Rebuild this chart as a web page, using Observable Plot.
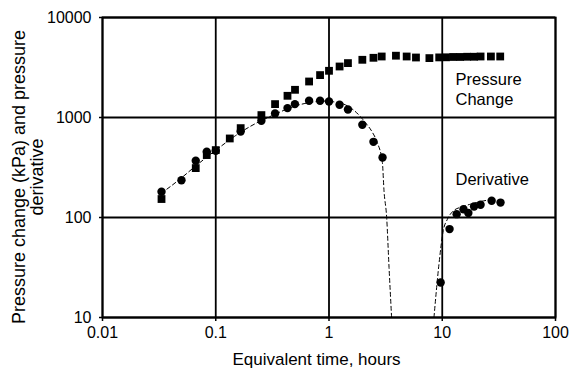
<!DOCTYPE html>
<html><head><meta charset="utf-8">
<script src="https://cdn.jsdelivr.net/npm/d3@7"></script>
<script src="https://cdn.jsdelivr.net/npm/@observablehq/plot@0.6"></script>
<style>
html,body{margin:0;padding:0;background:#fff;}
</style></head>
<body><div id="chart"></div>
<script>
// Axis ticks
const xTicks = [0.01, 0.1, 1, 10, 100];
const xTickLabels = ["0.01", "0.1", "1", "10", "100"];
const yTicks = [10, 100, 1000, 10000];
const yTickLabels = ["10", "100", "1000", "10000"];

// Pressure change (squares)
const pressureTime = [0.0332, 0.0666, 0.0833, 0.1, 0.133, 0.166, 0.253, 0.334, 0.43, 0.501, 0.667, 0.834, 1.0, 1.24, 1.47, 1.97, 2.47, 2.92, 3.9, 4.85, 5.86, 7.7, 9.4, 10.8, 12.5, 14.4, 16.6, 19.1, 21.8, 26.9, 32.5];
const pressureChange = [153, 312, 421, 472, 617, 783, 1057, 1361, 1648, 1892, 2291, 2655, 2931, 3236, 3499, 3776, 3954, 4074, 4150, 4074, 3981, 3926, 3990, 4000, 4030, 4030, 4050, 4050, 4074, 4074, 4074];

// Derivative (circles)
const derivTime = [0.0332, 0.0498, 0.0666, 0.0833, 0.1, 0.166, 0.253, 0.334, 0.43, 0.5, 0.667, 0.834, 1.0, 1.24, 1.47, 1.97, 2.47, 2.97, 9.68, 11.6, 13.4, 15.4, 17.0, 19.1, 21.8, 27.3, 32.7];
const derivative = [181, 236, 369, 454, 464, 724, 927, 1096, 1241, 1361, 1469, 1469, 1445, 1340, 1202, 845, 571, 398, 22.4, 76.6, 108, 121, 111, 129, 134, 147, 141];

// Dashed fitted derivative curve
const fitLeftTime = [0.033, 0.04, 0.05, 0.067, 0.1, 0.15, 0.2, 0.3, 0.4, 0.5, 0.7, 0.9, 1.1, 1.35, 1.66, 2.11, 2.4, 2.67, 2.96, 3.06, 3.23, 3.39, 3.57];
const fitLeftValue = [175, 205, 250, 330, 470, 660, 810, 1020, 1180, 1300, 1420, 1460, 1435, 1360, 1180, 880, 720, 560, 355, 185, 100, 31.6, 10];
const fitRightTime = [8.45, 9.35, 10.2, 11.1, 12.6, 15.0, 17.8, 21.0, 24.2];
const fitRightValue = [10, 34, 73.6, 96, 117, 128, 136, 143, 148];

// Annotations
const annoText = ["Pressure", "Change", "Derivative"];
const annoTime = [13.1, 13.1, 13.1];
const annoValue = [2123, 1324, 212];

const xTitle = "Equivalent time, hours";
const yTitle = "Pressure change (kPa) and pressure\nderivative";

const squares = pressureTime.map((t, i) => ({t, v: pressureChange[i]}));
const circles = derivTime.map((t, i) => ({t, v: derivative[i]}));
const fitL = fitLeftTime.map((t, i) => ({t, v: fitLeftValue[i]}));
const fitR = fitRightTime.map((t, i) => ({t, v: fitRightValue[i]}));
const annos = annoText.map((s, i) => ({s, t: annoTime[i], v: annoValue[i]}));

const font = "Liberation Sans, Arial, Helvetica, sans-serif";
const xLab = new Map(xTicks.map((d, i) => [d, xTickLabels[i]]));
const yLab = new Map(yTicks.map((d, i) => [d, yTickLabels[i]]));

const chart = Plot.plot({
  width: 583,
  height: 378,
  marginLeft: 102,
  marginRight: 28,
  marginTop: 17,
  marginBottom: 61,
  style: {fontFamily: font, fontSize: "16px", color: "#000", background: "#fff", overflow: "visible"},
  x: {type: "log", domain: [0.01, 100]},
  y: {type: "log", domain: [10, 10000]},
  marks: [
    Plot.ruleX(xTicks, {stroke: "#000", strokeWidth: 1.8}),
    Plot.ruleY(yTicks, {stroke: "#000", strokeWidth: 1.8}),
    Plot.frame({stroke: "#000", strokeWidth: 1.9}),
    Plot.axisX({ticks: xTicks, tickFormat: d => xLab.get(d), tickSize: 4, tickPadding: 5.5, stroke: "#000", strokeWidth: 1.5, fontSize: 16, fill: "#000", label: null}),
    Plot.axisY({ticks: yTicks, tickFormat: d => yLab.get(d), tickSize: 3, tickPadding: 8, stroke: "#000", strokeWidth: 1.5, fontSize: 16, fill: "#000", label: null}),
    Plot.line(fitL, {x: "t", y: "v", stroke: "#000", strokeWidth: 1, strokeDasharray: "4,3", curve: "monotone-x", clip: true}),
    Plot.line(fitR, {x: "t", y: "v", stroke: "#000", strokeWidth: 1, strokeDasharray: "4,3", curve: "monotone-x", clip: true}),
    Plot.dot(squares, {x: "t", y: "v", symbol: "square", r: 4.4, fill: "#000", stroke: "none"}),
    Plot.dot(circles, {x: "t", y: "v", symbol: "circle", r: 4.2, fill: "#000", stroke: "none"}),
    Plot.text(annos, {x: "t", y: "v", text: "s", textAnchor: "start", lineAnchor: "bottom", fontSize: 16.5, fill: "#000"}),
    Plot.text([xTitle], {frameAnchor: "bottom", text: d => d, lineAnchor: "bottom", dy: 47, dx: -12.5, fontSize: 17, fill: "#000"}),
    Plot.text([yTitle], {frameAnchor: "left", text: d => d, rotate: -90, lineAnchor: "top", lineHeight: 0.97, textAnchor: "middle", dx: -89.5, dy: 9.5, fontSize: 18, fill: "#000"})
  ]
});
document.getElementById("chart").appendChild(chart);
</script>
</body></html>
